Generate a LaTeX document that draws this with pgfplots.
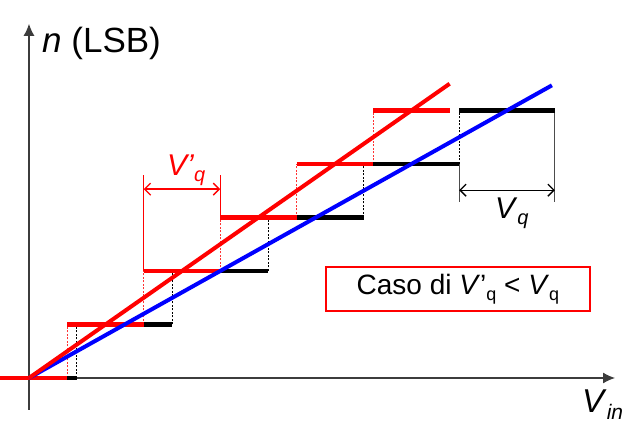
\documentclass[border=0pt]{standalone}
\usepackage{fontspec}
\setmainfont{Liberation Sans}
\usepackage{pgfplots}
\pgfplotsset{compat=1.18}
\usetikzlibrary{arrows.meta}
\definecolor{myred}{RGB}{255,0,0}
\definecolor{myblue}{RGB}{0,0,255}
\definecolor{axgray}{RGB}{60,60,60}
\newcommand{\sub}[2][18]{\raisebox{-0.22em}{\fontsize{#1}{#1}\selectfont #2}}

\begin{document}
\begin{tikzpicture}
\useasboundingbox (0,0) rectangle (629pt,441pt);
\begin{axis}[at={(0,0)}, anchor=south west, scale only axis,
  width=629pt, height=441pt,
  xmin=-0.3033, xmax=6.2762, ymin=-1.1776, ymax=7.0654,
  hide axis, clip=false, unbounded coords=jump]
% axes
\addplot[axgray, line width=1.3pt, -{Latex[length=12pt,width=11pt]}] coordinates {(-0.3033,0) (6.13,0)};
\addplot[axgray, line width=1.3pt, -{Latex[length=12pt,width=11pt]}] coordinates {(0,-0.598) (0,6.62)};
% black dashed risers
\addplot[black, line width=0.8pt, dash pattern=on 2pt off 1.5pt] coordinates {
 (0.5,0) (0.5,1) (nan,nan) (1.5,1) (1.5,2) (nan,nan) (2.5,2) (2.5,3) (nan,nan)
 (3.5,3) (3.5,4) (nan,nan) (4.5,4) (4.5,5)};
% red dashed risers
\addplot[myred!80, line width=0.8pt, dash pattern=on 2pt off 1.5pt] coordinates {
 (0.4,0) (0.4,1) (nan,nan) (1.2,1) (1.2,2) (nan,nan) (2.0,2) (2.0,3) (nan,nan)
 (2.8,3) (2.8,4) (nan,nan) (3.6,4) (3.6,5)};
% black dimension (Vq)
\addplot[black!70, line width=1pt] coordinates {(4.5,4) (4.5,3.29) (nan,nan) (5.5,5) (5.5,3.29)};
\addplot[black, line width=1.3pt, {Straight Barb[length=6pt,width=12pt]}-{Straight Barb[length=6pt,width=12pt]}] coordinates {(4.5,3.51) (5.5,3.51)};
% red dimension (V'q)
\addplot[myred, line width=1pt] coordinates {(1.2,2) (1.2,3.79) (nan,nan) (2.0,3) (2.0,3.79)};
\addplot[myred, line width=1.3pt, {Straight Barb[length=6pt,width=12pt]}-{Straight Barb[length=6pt,width=12pt]}] coordinates {(1.2,3.53) (2.0,3.53)};
% black steps (Vq = 1)
\addplot[black, line width=4.5pt] coordinates {
 (0,0) (0.5,0) (nan,nan) (0.5,1) (1.5,1) (nan,nan) (1.5,2) (2.5,2) (nan,nan)
 (2.5,3) (3.5,3) (nan,nan) (3.5,4) (4.5,4) (nan,nan) (4.5,5) (5.5,5)};
% red steps (V'q = 0.8)
\addplot[myred, line width=4.5pt] coordinates {
 (-0.3033,0) (0.4,0) (nan,nan) (0.4,1) (1.2,1) (nan,nan) (1.2,2) (2.0,2) (nan,nan)
 (2.0,3) (2.8,3) (nan,nan) (2.8,4) (3.6,4) (nan,nan) (3.6,5) (4.4,5)};
% ideal lines
\addplot[myblue, line width=4pt] coordinates {(0,0) (5.47,5.47)};
\addplot[myred, line width=4pt] coordinates {(0,0) (4.4,5.5)};
% labels
\node[anchor=base west, inner sep=0pt, font=\fontsize{35}{40}\selectfont] at (axis cs:0.136,6.075) {\textit{n} (LSB)};
\node[anchor=base west, inner sep=0pt, text=myred, font=\fontsize{30}{34}\selectfont] at (axis cs:1.443,3.794) {\textit{V'}\sub[20]{\textit{q}}};
\node[anchor=base west, inner sep=0pt, font=\fontsize{30}{34}\selectfont] at (axis cs:4.874,2.99) {\textit{V}\sub[20]{\textit{q}}};
\node[anchor=base west, inner sep=0pt, font=\fontsize{33}{38}\selectfont] at (axis cs:5.785,-0.636) {\textit{V}\sub[21]{\textit{in}}};
\node[draw=myred, line width=2pt, minimum width=264pt, minimum height=44pt, inner sep=0pt,
  font=\fontsize{28}{32}\selectfont] at (axis cs:4.487,1.664) {Caso di \textit{V}’\sub{q} < \textit{V}\sub{q}};
\end{axis}
\end{tikzpicture}
\end{document}
